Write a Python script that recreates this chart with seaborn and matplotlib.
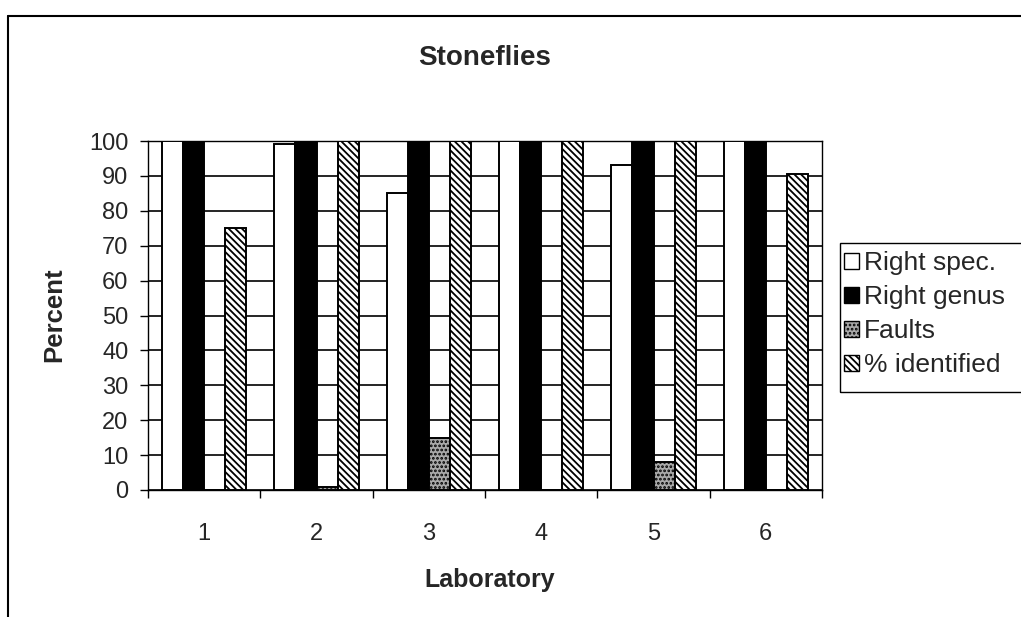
import numpy as np
import matplotlib
matplotlib.use("Agg")
import matplotlib.pyplot as plt
import pandas as pd
import seaborn as sns
from matplotlib.patches import Patch, Rectangle
from matplotlib.lines import Line2D

labs = ["1", "2", "3", "4", "5", "6"]
series = ["Right spec.", "Right genus", "Faults", "% identified"]
right_spec = [100, 99, 85, 100, 93, 100]
right_genus = [100, 100, 100, 100, 100, 100]
faults = [0, 1, 15, 0, 8, 0]
identified = [75, 100, 100, 100, 100, 90.5]

df = pd.DataFrame({
    "Laboratory": labs * 4,
    "series": [s for s in series for _ in labs],
    "Percent": right_spec + right_genus + faults + identified,
})

sns.set_style("white")
plt.rcParams["font.family"] = ["Liberation Sans", "DejaVu Sans"]
plt.rcParams["hatch.linewidth"] = 1.3

fig = plt.figure(figsize=(10.21, 6.17), dpi=100)
W, H = 1021, 617
ax = fig.add_axes([148 / W, 1 - 490 / H, (822 - 148) / W, (490 - 141) / H])

sns.barplot(data=df, x="Laboratory", y="Percent", hue="series", order=labs,
            hue_order=series, width=0.75, ax=ax, legend=False, zorder=3)

faces = ["white", "black", "#a9a9a9", "white"]
hatches = [None, None, "....", "\\\\\\\\\\"]
for cont, fc, h in zip(ax.containers, faces, hatches):
    for p in cont:
        p.set_facecolor(fc)
        p.set_edgecolor("black")
        p.set_linewidth(1.4)
        if h:
            p.set_hatch(h)

ax.set_ylim(0, 100)
ax.set_xlim(-0.5, 5.5)
ax.set_yticks(np.arange(0, 101, 10))
ax.yaxis.grid(True, color="black", linewidth=1.2, zorder=0)
ax.set_axisbelow(True)
for s in ax.spines.values():
    s.set_color("black")
    s.set_linewidth(1.0)

ax.set_xticks(np.arange(-0.5, 6, 1), minor=True)
ax.tick_params(axis="x", which="major", length=0, pad=24, labelsize=17)
ax.tick_params(axis="x", which="minor", length=6, width=1, color="black", direction="out", bottom=True)
ax.tick_params(axis="y", length=6, width=1, color="black", direction="out", left=True, pad=8, labelsize=17)
ax.set_xlabel("")
ax.set_ylabel("")

fig.text(485 / W, 1 - 58 / H, "Stoneflies", ha="center", va="center", fontsize=20, fontweight="bold")
fig.text(490 / W, 1 - 580 / H, "Laboratory", ha="center", va="center", fontsize=18, fontweight="bold")
fig.text(54 / W, 1 - 315 / H, "Percent", ha="center", va="center", rotation=90, fontsize=18.5, fontweight="bold")

handles = [Patch(facecolor=fc, edgecolor="black", hatch=h, linewidth=1) for fc, h in zip(faces, hatches)]
leg = fig.legend(handles, series, loc="upper left", bbox_to_anchor=(844 / W, 1 - 251 / H),
                 frameon=False, fontsize=19,
                 handlelength=0.55, handleheight=0.55, handletextpad=0.2,
                 labelspacing=0.38, borderpad=0.0, borderaxespad=0)
# legend box runs off the right edge like the original
fig.add_artist(Rectangle((840 / W, 1 - 392 / H), 200 / W, (392 - 243) / H, fill=False,
                         edgecolor="black", linewidth=1.0, transform=fig.transFigure))

fig.add_artist(Line2D([8 / W, 1], [1 - 16 / H, 1 - 16 / H], color="black", linewidth=1.5, transform=fig.transFigure))
fig.add_artist(Line2D([8 / W, 8 / W], [1 - 16 / H, 0], color="black", linewidth=1.5, transform=fig.transFigure))

fig.savefig("out.png", dpi=100)
